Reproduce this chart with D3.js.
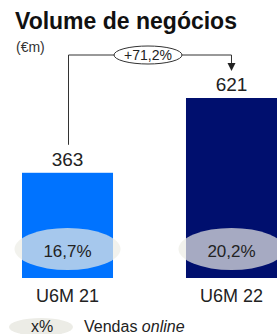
<!DOCTYPE html>
<html>
<head>
<meta charset="utf-8">
<script src="https://cdn.jsdelivr.net/npm/d3@7"></script>
<style>
  body { margin: 0; background: #fff; }
  text { font-family: "Liberation Sans", Arial, Helvetica, sans-serif; }
</style>
</head>
<body>
<svg id="chart" width="277" height="334"></svg>
<script>
// Chart data
const categories = ["U6M 21", "U6M 22"];
const values = [363, 621];
const onlineShare = ["16,7%", "20,2%"];
const growthLabel = "+71,2%";
const barColors = ["#0073ff", "#000f6e"];

const width = 277;
const height = 334;
const svg = d3.select("#chart");

// Scales
const x = d3.scaleBand()
    .domain(categories)
    .range([22, 277])
    .paddingInner(0.445)
    .paddingOuter(0);

const y = d3.scaleLinear()
    .domain([0, d3.max(values)])
    .range([278, 98]);

// Title
svg.append("text")
    .attr("x", 15)
    .attr("y", 29)
    .style("font-size", "23px")
    .style("font-weight", "bold")
    .style("fill", "#111")
    .text("Volume de negócios");

svg.append("text")
    .attr("x", 16)
    .attr("y", 52)
    .style("font-size", "14px")
    .style("fill", "#333")
    .text("(€m)");

// Bars
svg.selectAll(".bar")
    .data(values)
    .enter()
    .append("rect")
    .attr("class", "bar")
    .attr("x", (d, i) => x(categories[i]))
    .attr("y", d => y(d))
    .attr("width", x.bandwidth())
    .attr("height", d => y(0) - y(d))
    .attr("fill", (d, i) => barColors[i]);

// Online share ellipses
svg.selectAll(".share")
    .data(onlineShare)
    .enter()
    .append("ellipse")
    .attr("cx", (d, i) => x(categories[i]) + x.bandwidth() / 2)
    .attr("cy", 249)
    .attr("rx", 53)
    .attr("ry", 21)
    .attr("fill", "#ecece6")
    .attr("fill-opacity", 0.7);

svg.selectAll(".share-label")
    .data(onlineShare)
    .enter()
    .append("text")
    .attr("x", (d, i) => x(categories[i]) + x.bandwidth() / 2)
    .attr("y", 257)
    .attr("text-anchor", "middle")
    .style("font-size", "17px")
    .style("fill", "#222")
    .text(d => d);

// Value labels
svg.selectAll(".value")
    .data(values)
    .enter()
    .append("text")
    .attr("x", (d, i) => x(categories[i]) + x.bandwidth() / 2)
    .attr("y", d => y(d) - 7)
    .attr("text-anchor", "middle")
    .style("font-size", "19px")
    .style("fill", "#222")
    .text(d => d);

// Category labels
svg.selectAll(".cat")
    .data(categories)
    .enter()
    .append("text")
    .attr("x", d => x(d) + x.bandwidth() / 2)
    .attr("y", 302)
    .attr("text-anchor", "middle")
    .style("font-size", "18px")
    .style("fill", "#222")
    .text(d => d);

// Growth bracket
const x1 = x(categories[0]) + x.bandwidth() / 2 + 1;
const x2 = x(categories[1]) + x.bandwidth() / 2;
const topY = 55;

svg.append("path")
    .attr("d", `M${x1},${y(values[0]) - 28} V${topY} H${x2} V${y(values[1]) - 35}`)
    .attr("fill", "none")
    .attr("stroke", "#333")
    .attr("stroke-width", 1);

svg.append("path")
    .attr("d", `M${x2 - 4},${y(values[1]) - 35} L${x2 + 4},${y(values[1]) - 35} L${x2},${y(values[1]) - 27} Z`)
    .attr("fill", "#222");

const midX = (x1 + x2) / 2 - 2;
svg.append("ellipse")
    .attr("cx", midX)
    .attr("cy", topY)
    .attr("rx", 34)
    .attr("ry", 9)
    .attr("fill", "#fff")
    .attr("stroke", "#333")
    .attr("stroke-width", 1);

svg.append("text")
    .attr("x", midX)
    .attr("y", topY + 5)
    .attr("text-anchor", "middle")
    .style("font-size", "14px")
    .style("fill", "#222")
    .text(growthLabel);

// Legend
svg.append("ellipse")
    .attr("cx", 41)
    .attr("cy", 327)
    .attr("rx", 32)
    .attr("ry", 9)
    .attr("fill", "#ecece6");

svg.append("text")
    .attr("x", 42)
    .attr("y", 332)
    .attr("text-anchor", "middle")
    .style("font-size", "16px")
    .style("fill", "#222")
    .text("x%");

const legendText = svg.append("text")
    .attr("x", 84)
    .attr("y", 332)
    .style("font-size", "16px")
    .style("fill", "#222");
legendText.append("tspan").text("Vendas ");
legendText.append("tspan").style("font-style", "italic").text("online");
</script>
</body>
</html>
